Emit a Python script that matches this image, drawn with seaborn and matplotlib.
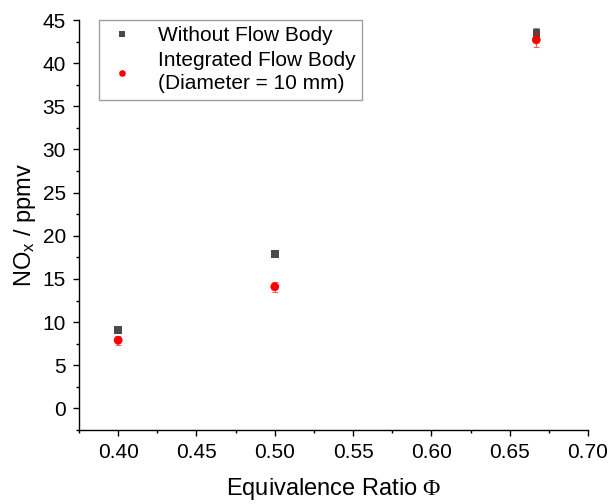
import matplotlib
matplotlib.use("Agg")
import matplotlib.pyplot as plt
import seaborn as sns
import pandas as pd
import numpy as np
from matplotlib.ticker import MultipleLocator

phi = [0.40, 0.50, 0.667]
without_vals = [9.1, 17.9, 43.5]
without_err = [0.3, 0.2, 0.6]
integrated_vals = [7.9, 14.1, 42.7]
integrated_err = [0.5, 0.6, 0.8]
labels = ["Without Flow Body", "Integrated Flow Body\n(Diameter = 10 mm)"]

sns.set_theme(style="ticks")
plt.rcParams['font.family'] = ['Liberation Sans', 'DejaVu Sans']
plt.rcParams['mathtext.fontset'] = 'custom'
plt.rcParams['mathtext.rm'] = 'Liberation Serif'
plt.rcParams['mathtext.sf'] = 'Liberation Sans'
plt.rcParams['mathtext.it'] = 'Liberation Sans:italic'
plt.rcParams['text.color'] = 'black'
plt.rcParams['axes.labelcolor'] = 'black'
plt.rcParams['xtick.color'] = 'black'
plt.rcParams['ytick.color'] = 'black'

df = pd.DataFrame({
    "phi": phi + phi,
    "nox": without_vals + integrated_vals,
    "series": [labels[0]] * 3 + [labels[1]] * 3,
})

fig = plt.figure(figsize=(6.11, 5.04), dpi=100)
ax = fig.add_axes([79/611, 74/504, (588-79)/611, (430-20)/504])

colors = {labels[0]: "#4a4a4a", labels[1]: "#ff0000"}
ax.errorbar(phi, without_vals, yerr=without_err, fmt="none", ecolor="#4a4a4a",
            elinewidth=0.8, capsize=2.5, capthick=0.8, alpha=0.6, zorder=4)
ax.errorbar(phi, integrated_vals, yerr=integrated_err, fmt="none", ecolor="#ff0000",
            elinewidth=0.8, capsize=2.5, capthick=0.8, alpha=0.6, zorder=4)

sns.scatterplot(data=df, x="phi", y="nox", hue="series", style="series",
                palette=colors, markers={labels[0]: "s", labels[1]: "o"},
                size="series", sizes={labels[0]: 30, labels[1]: 40},
                linewidth=0, ax=ax, zorder=3)

ax.set_xlim(0.375, 0.70)
ax.set_ylim(-2.5, 45)
ax.xaxis.set_major_locator(MultipleLocator(0.05))
ax.xaxis.set_minor_locator(MultipleLocator(0.025))
ax.yaxis.set_major_locator(MultipleLocator(5))
ax.yaxis.set_minor_locator(MultipleLocator(2.5))
ax.xaxis.set_major_formatter(matplotlib.ticker.FormatStrFormatter('%.2f'))

for s in ["top", "right"]:
    ax.spines[s].set_visible(False)
for s in ["left", "bottom"]:
    ax.spines[s].set_linewidth(1.0)
    ax.spines[s].set_color("black")

ax.tick_params(axis="both", which="major", direction="out", length=4.5, width=1,
               labelsize=15, pad=5, color="black", labelcolor="black")
ax.tick_params(axis="both", which="minor", direction="out", length=2.5, width=1, color="black")

ax.set_xlabel("Equivalence Ratio $\\Phi$", fontsize=17, labelpad=10)
ax.set_ylabel("NO$_\\mathsf{x}$ / ppmv", fontsize=17, labelpad=3)

handles, lbls = ax.get_legend_handles_labels()
leg = ax.legend(handles=handles[:2],
                labels=labels, loc="upper left", bbox_to_anchor=(0.04, 1.0), fontsize=15,
                frameon=True, fancybox=False, edgecolor="#888888",
                handletextpad=0.9, handlelength=1.6, borderpad=0.3, labelspacing=0.3,
                markerscale=0.75, borderaxespad=0)
leg.get_frame().set_linewidth(1.0)
for t in leg.get_texts():
    t.set_multialignment("left")
    t.set_linespacing(1.25)

fig.savefig("out.png", dpi=100)
